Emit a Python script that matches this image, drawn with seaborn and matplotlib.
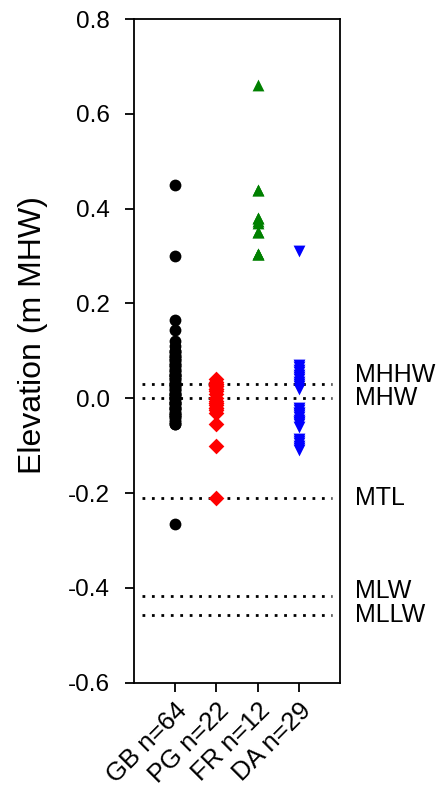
import numpy as np
import pandas as pd
import matplotlib
matplotlib.use("Agg")
import matplotlib.pyplot as plt
import seaborn as sns

# Site names and marker elevations (m relative to MHW)
sites = ["GB n=64", "PG n=22", "FR n=12", "DA n=29"]

gb_elev = [0.45, 0.30, 0.165, 0.145, 0.12, 0.11, 0.10, 0.10, 0.095, 0.09,
           0.085, 0.08, 0.08, 0.075, 0.07, 0.065, 0.06, 0.06, 0.055, 0.05,
           0.05, 0.045, 0.04, 0.04, 0.035, 0.03, 0.03, 0.025, 0.02, 0.02,
           0.015, 0.01, 0.01, 0.005, 0.0, 0.0, 0.0, -0.005, -0.01, -0.01,
           -0.015, -0.02, -0.02, -0.025, -0.03, -0.03, -0.035, -0.04, -0.04, -0.045,
           -0.05, -0.055, -0.055, 0.07, 0.05, 0.03, 0.01, -0.01, 0.09, 0.025,
           0.0, -0.02, -0.035, -0.265]
pg_elev = [0.04, 0.035, 0.03, 0.03, 0.025, 0.02, 0.02, 0.015, 0.01, 0.0,
           -0.005, -0.01, -0.01, -0.015, -0.02, -0.02, -0.025, -0.03, -0.055, -0.10,
           -0.21, 0.025]
fr_elev = [0.66, 0.44, 0.44, 0.38, 0.38, 0.375, 0.37, 0.35, 0.35, 0.305,
           0.305, 0.305]
da_elev = [0.31, 0.07, 0.065, 0.06, 0.055, 0.05, 0.045, 0.04, 0.035, 0.03,
           0.025, 0.02, -0.02, -0.025, -0.03, -0.03, -0.035, -0.04, -0.045, -0.05,
           -0.05, -0.055, -0.06, -0.085, -0.09, -0.095, -0.10, -0.105, -0.11]

# Tidal datums (m MHW)
datum_names = ["MHHW", "MHW", "MTL", "MLW", "MLLW"]
datum_elev = [0.03, 0.0, -0.21, -0.418, -0.458]

y_ticks = [-0.6, -0.4, -0.2, 0.0, 0.2, 0.4, 0.6, 0.8]

sns.set_style("ticks")
plt.rcParams["font.family"] = ["Liberation Sans", "DejaVu Sans"]
plt.rcParams["axes.unicode_minus"] = False
plt.rcParams["text.color"] = "black"
plt.rcParams["axes.labelcolor"] = "black"
plt.rcParams["xtick.color"] = "black"
plt.rcParams["ytick.color"] = "black"

fig = plt.figure(figsize=(4.41, 7.93), dpi=100)
ax = fig.add_axes([0.304, 0.139, 0.467, 0.837])

groups = [
    (sites[0], gb_elev, "o", "black", 8.5),
    (sites[1], pg_elev, "D", "red", 8),
    (sites[2], fr_elev, "^", "green", 8.5),
    (sites[3], da_elev, "v", "blue", 8.5),
]
for name, vals, marker, color, size in groups:
    df = pd.DataFrame({"site": [name] * len(vals), "elev": vals})
    sns.stripplot(data=df, x="site", y="elev", order=sites, jitter=False,
                  marker=marker, color=color, size=size, linewidth=0, ax=ax)

# Datum lines and labels on the right
label_shift = {"MHHW": 0.02, "MHW": 0.0, "MTL": 0.0, "MLW": 0.012, "MLLW": 0.0}
for name, val in zip(datum_names, datum_elev):
    ax.axhline(val, xmin=0.04, xmax=0.96, color="black", lw=2,
               linestyle=(0, (1, 2.4)), zorder=1)
    ax.text(1.075, val + label_shift[name], name, transform=ax.get_yaxis_transform(),
            ha="left", va="center", fontsize=18, color="black")

ax.set_xlim(-1, 4)
ax.set_ylim(-0.6, 0.8)
ax.set_yticks(y_ticks)
ax.set_yticklabels([f"{v:.1f}" for v in y_ticks], fontsize=17.5)
ax.set_xticks(range(len(sites)))
ax.set_xticklabels(sites, rotation=45, ha="right", rotation_mode="anchor", fontsize=18.5)
ax.set_xlabel("")
ax.set_ylabel("Elevation (m MHW)", fontsize=23, color="black")
ax.yaxis.set_label_coords(-0.42, 0.524)

for side in ["top", "right", "bottom", "left"]:
    ax.spines[side].set_visible(True)
    ax.spines[side].set_linewidth(1.3)
    ax.spines[side].set_color("black")
ax.tick_params(axis="y", direction="out", length=6.5, width=1.3, pad=11)
ax.tick_params(axis="x", direction="out", length=6.5, width=1.3, pad=5)

fig.savefig("out.png", dpi=100)
